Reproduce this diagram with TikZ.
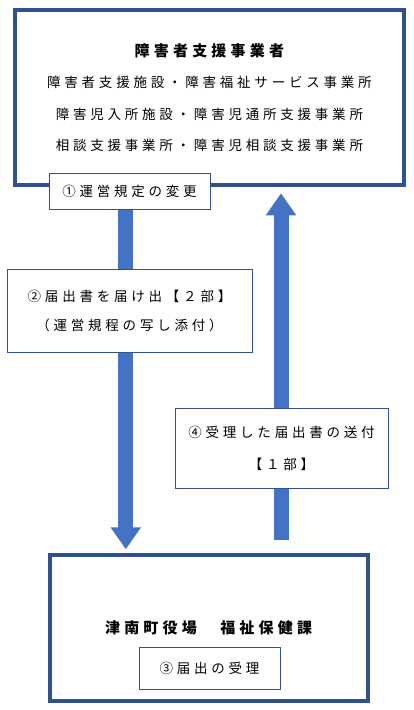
\documentclass[tikz,border=0pt]{standalone}
\usepackage{fontspec}
\usepackage{tikz}
\usetikzlibrary{arrows.meta, positioning, calc}
\newfontfamily\jpfont{Noto Sans CJK JP}[LetterSpace=28]
\definecolor{FrameBlue}{HTML}{2F528F}
\definecolor{ArrowBlue}{HTML}{4472C4}

\begin{document}
\begin{tikzpicture}[x=1pt, y=-1pt, every node/.style={font=\jpfont}]
    \tikzstyle{bigbox} = [rectangle, draw=FrameBlue, fill=white, line width=4pt, align=center, inner sep=0pt]
    \tikzstyle{tagbox} = [rectangle, draw=FrameBlue, fill=white, line width=1pt, align=center, inner sep=0pt]
    \tikzstyle{flow} = [draw=ArrowBlue, line width=15pt, -{Triangle[width=29pt, length=22pt]}, ArrowBlue]

    \useasboundingbox (0,0) rectangle (413,710);

    \node [bigbox, minimum width=389pt, minimum height=175pt, font=\jpfont\fontsize{13.5}{31.5}\selectfont] (provider) at (209.4,97.8)
        {{\bfseries\fontsize{15}{31.5}\selectfont 障害者支援事業者}\\
         障害者支援施設・障害福祉サービス事業所\\
         障害児入所施設・障害児通所支援事業所\\
         相談支援事業所・障害児相談支援事業所};
    \node [tagbox, minimum width=161pt, minimum height=36pt, font=\jpfont\fontsize{13.5}{16}\selectfont] (change) at (129.5,191) {①運営規定の変更};

    \node [bigbox, minimum width=318pt, minimum height=146pt, font=\jpfont\bfseries\fontsize{15}{18}\selectfont] (office) at (208.6,628.3) {津南町役場　福祉保健課};
    \node [tagbox, minimum width=141pt, minimum height=42pt, font=\jpfont\fontsize{13.5}{16}\selectfont] (accept) at (209.5,668) {③届出の受理};

    \coordinate (downx) at (125.8,0);
    \coordinate (upx) at (281,0);
    \path [flow, shorten >=4pt] (change.south -| downx) -- (office.north -| downx);
    \path [flow, shorten <=13.3pt, shorten >=6pt] (office.north -| upx) -- (provider.south -| upx);

    \node [tagbox, minimum width=245pt, minimum height=83pt, font=\jpfont\fontsize{13.5}{29}\selectfont] (notify) at (129.5,310.5)
        {②届出書を届け出【２部】\\（運営規程の写し添付）};
    \node [tagbox, minimum width=213pt, minimum height=80pt, font=\jpfont\fontsize{13.5}{32}\selectfont] (send) at (281.5,448)
        {④受理した届出書の送付\\【１部】};
\end{tikzpicture}
\end{document}
